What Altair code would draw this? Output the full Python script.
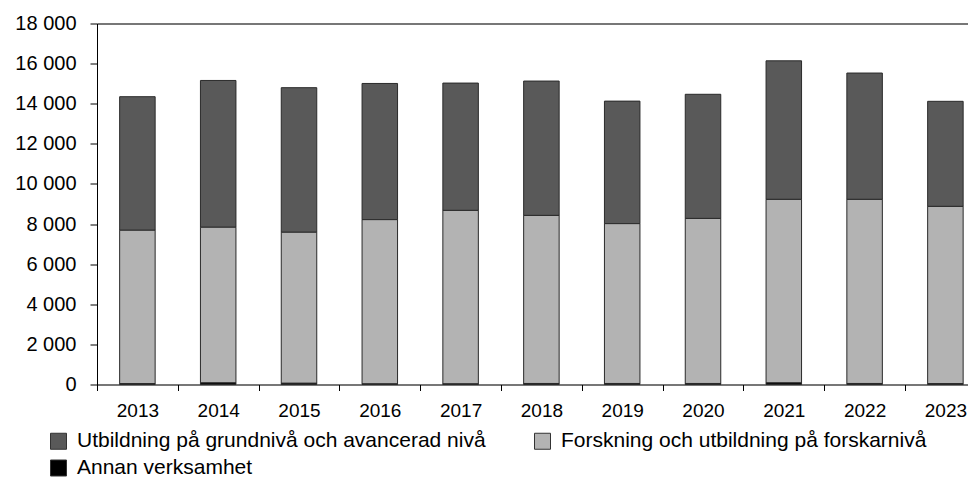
import altair as alt
import pandas as pd

years = ["2013", "2014", "2015", "2016", "2017", "2018", "2019", "2020", "2021", "2022", "2023"]
utbildning = [6660, 7320, 7210, 6790, 6350, 6700, 6110, 6190, 6910, 6300, 5240]
forskning = [7650, 7760, 7530, 8190, 8650, 8380, 7970, 8230, 9150, 9180, 8840]
annan = [40, 80, 60, 30, 30, 50, 50, 50, 80, 50, 40]

series_names = [
    "Utbildning på grundnivå och avancerad nivå",
    "Forskning och utbildning på forskarnivå",
    "Annan verksamhet",
]
series_colors = ["#595959", "#b3b3b3", "#000000"]
stack_order = [3, 2, 1]

rows = []
for i, y in enumerate(years):
    for name, vals, o in zip(series_names, [utbildning, forskning, annan], stack_order):
        rows.append({"year": y, "serie": name, "value": vals[i], "ord": o})
df = pd.DataFrame(rows)
years_df = pd.DataFrame({"year": years})

FONT = "Liberation Sans"

x_scale = alt.Scale(domain=years, range=[0, 888.8], paddingInner=0, paddingOuter=0)

bars = (
    alt.Chart(df)
    .mark_bar(size=35.5, stroke="#2a2a2a", strokeWidth=1)
    .encode(
        x=alt.X(
            "year:N",
            sort=years,
            title=None,
            scale=x_scale,
            axis=alt.Axis(
                orient="bottom",
                labelAngle=0,
                domain=True,
                domainColor="#000",
                ticks=True,
                tickBand="extent",
                tickSize=6,
                tickColor="#000",
                labelPadding=11,
                labelFontSize=19,
                labelFont=FONT,
                labelColor="#000",
            ),
        ),
        y=alt.Y(
            "value:Q",
            stack="zero",
            title=None,
            scale=alt.Scale(domain=[0, 18000], nice=False),
            axis=alt.Axis(
                values=list(range(0, 18001, 2000)),
                grid=False,
                tickSize=7,
                tickColor="#000",
                domainColor="#000",
                labelPadding=14,
                labelFontSize=20,
                labelFont=FONT,
                labelColor="#000",
                labelExpr="datum.value >= 1000 ? floor(datum.value / 1000) + ' 000' : '' + datum.value",
            ),
        ),
        color=alt.Color(
            "serie:N",
            scale=alt.Scale(domain=series_names, range=series_colors),
            legend=alt.Legend(
                title=None,
                orient="none",
                legendX=-49,
                legendY=407,
                columns=2,
                direction="horizontal",
                symbolType="square",
                symbolSize=256,
                symbolStrokeColor="#333",
                symbolStrokeWidth=1,
                symbolOpacity=1,
                labelFontSize=21,
                labelFont=FONT,
                labelColor="#000",
                labelOffset=8,
                columnPadding=46,
                rowPadding=5,
                padding=0,
                labelLimit=600,
            ),
        ),
        order=alt.Order("ord:Q"),
    )
)

top_border = (
    alt.Chart(years_df)
    .mark_point(opacity=0)
    .encode(
        x=alt.X(
            "year:N",
            sort=years,
            title=None,
            scale=x_scale,
            axis=alt.Axis(
                orient="top",
                labels=False,
                ticks=False,
                domain=True,
                domainColor="#000",
            ),
        ),
    )
)

chart = (
    alt.layer(bars, top_border)
    .resolve_axis(x="independent")
    .properties(
        width=871,
        height=361,
        autosize=alt.AutoSizeParams(type="none"),
        padding={"left": 89, "top": 15.5, "right": 0, "bottom": 98.5},
    )
    .configure_view(stroke=None)
    .configure(background="white")
)

chart.save("out.html", embed_options={"renderer": "svg", "actions": False})
